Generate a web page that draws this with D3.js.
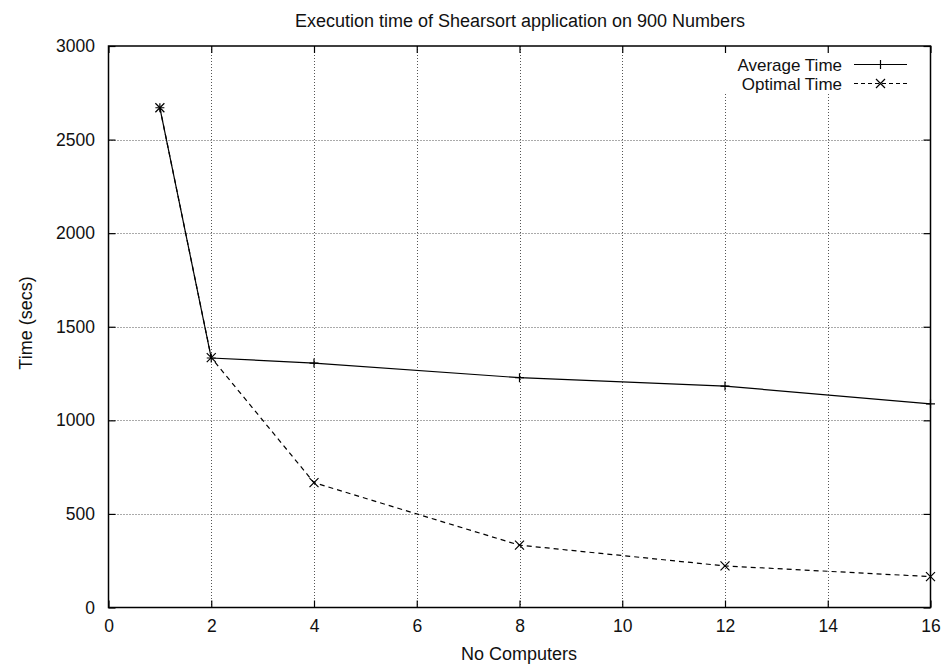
<!DOCTYPE html>
<html>
<head>
<meta charset="utf-8">
<script src="https://cdn.jsdelivr.net/npm/d3@7/dist/d3.min.js"></script>
<style>
  body { margin: 0; background: #fff; }
  svg text { font-family: "Liberation Sans", Arial, Helvetica, sans-serif; fill: #111; }
</style>
</head>
<body>
<svg id="chart" width="948" height="668"></svg>
<script>
// Shearsort timings on 900 numbers
const computers   = [1, 2, 4, 8, 12, 16];
const averageTime = [2670, 1333, 1306, 1228, 1183, 1088];
const optimalTime = [2670, 1335, 667, 333, 222, 165];
const xTicks = [0, 2, 4, 6, 8, 10, 12, 14, 16];
const yTicks = [0, 500, 1000, 1500, 2000, 2500, 3000];

const svg = d3.select("#chart");
const plotL = 108.5, plotR = 930.5, plotT = 46, plotB = 607.5;

const x = d3.scaleLinear().domain([0, 16]).range([plotL, plotR]);
const y = d3.scaleLinear().domain([0, 3000]).range([plotB, plotT]);

// Grid
const grid = svg.append("g")
  .attr("stroke", "#555").attr("stroke-width", 1).attr("stroke-dasharray", "1,2");
grid.selectAll("line.gx").data(xTicks.slice(1, -1)).join("line")
  .attr("x1", d => Math.round(x(d)) + 0.5).attr("x2", d => Math.round(x(d)) + 0.5)
  .attr("y1", plotT).attr("y2", plotB);
grid.selectAll("line.gy").data(yTicks.slice(1, -1)).join("line")
  .attr("y1", d => Math.round(y(d)) + 0.5).attr("y2", d => Math.round(y(d)) + 0.5)
  .attr("x1", plotL).attr("x2", plotR);

// Legend area is kept clear of grid lines
svg.append("rect").attr("x", 718).attr("y", plotT + 1).attr("width", plotR - 718 - 1).attr("height", 46).attr("fill", "#fff");

// Axes with inward ticks, mirrored on top/right
const tickLen = 7;
svg.append("g").attr("transform", `translate(0,${plotB})`)
  .call(d3.axisBottom(x).tickValues(xTicks).tickSize(-tickLen).tickPadding(12.5).tickFormat(d3.format("d")));
svg.append("g").attr("transform", `translate(0,${plotT})`)
  .call(d3.axisTop(x).tickValues(xTicks).tickSize(-tickLen).tickFormat(""));
svg.append("g").attr("transform", `translate(${plotL},0)`)
  .call(d3.axisLeft(y).tickValues(yTicks).tickSize(-tickLen).tickPadding(13.5).tickFormat(d3.format("d")));
svg.append("g").attr("transform", `translate(${plotR},0)`)
  .call(d3.axisRight(y).tickValues(yTicks).tickSize(-tickLen).tickFormat(""));
svg.selectAll(".domain").remove();
svg.selectAll(".tick line").attr("stroke", "#000").attr("stroke-width", 1.2);
svg.selectAll(".tick text").attr("font-size", 17.5).attr("fill", "#111")
  .attr("font-family", "'Liberation Sans', Arial, sans-serif");

// Frame
svg.append("rect").attr("x", plotL).attr("y", plotT).attr("width", plotR - plotL).attr("height", plotB - plotT)
  .attr("fill", "none").attr("stroke", "#000").attr("stroke-width", 1.5);

// Series
const avgData = computers.map((c, i) => [c, averageTime[i]]);
const optData = computers.map((c, i) => [c, optimalTime[i]]);
const line = d3.line().x(d => x(d[0])).y(d => y(d[1]));

svg.append("path").datum(avgData).attr("d", line)
  .attr("fill", "none").attr("stroke", "#000").attr("stroke-width", 1.2);
svg.append("path").datum(optData).attr("d", line)
  .attr("fill", "none").attr("stroke", "#000").attr("stroke-width", 1.2).attr("stroke-dasharray", "5,4");

const s = 4.5;
function plus(g, cx, cy) {
  g.append("path").attr("d", `M${cx - s},${cy}H${cx + s}M${cx},${cy - s}V${cy + s}`)
    .attr("stroke", "#000").attr("stroke-width", 1.2).attr("fill", "none");
}
function cross(g, cx, cy) {
  g.append("path").attr("d", `M${cx - s},${cy - s}L${cx + s},${cy + s}M${cx - s},${cy + s}L${cx + s},${cy - s}`)
    .attr("stroke", "#000").attr("stroke-width", 1.2).attr("fill", "none");
}
const marks = svg.append("g");
avgData.forEach(d => plus(marks, x(d[0]), y(d[1])));
optData.forEach(d => cross(marks, x(d[0]), y(d[1])));

// Legend
const legend = svg.append("g");
const legendRows = [
  { label: "Average Time", dash: null, mark: plus, cy: 64.5 },
  { label: "Optimal Time", dash: "4,3", mark: cross, cy: 83.5 }
];
legendRows.forEach(r => {
  legend.append("text").attr("x", 842).attr("y", r.cy + 6.5).attr("text-anchor", "end")
    .attr("font-size", 17).text(r.label);
  legend.append("line").attr("x1", 854).attr("x2", 907).attr("y1", r.cy).attr("y2", r.cy)
    .attr("stroke", "#000").attr("stroke-width", 1.2).attr("stroke-dasharray", r.dash);
  r.mark(legend, 880.5, r.cy);
});

// Titles
svg.append("text").attr("x", 520).attr("y", 27).attr("text-anchor", "middle")
  .attr("font-size", 18).text("Execution time of Shearsort application on 900 Numbers");
svg.append("text").attr("x", 519).attr("y", 660).attr("text-anchor", "middle")
  .attr("font-size", 18).text("No Computers");
svg.append("text").attr("transform", "translate(32,323) rotate(-90)").attr("text-anchor", "middle")
  .attr("font-size", 18).text("Time (secs)");
</script>
</body>
</html>
